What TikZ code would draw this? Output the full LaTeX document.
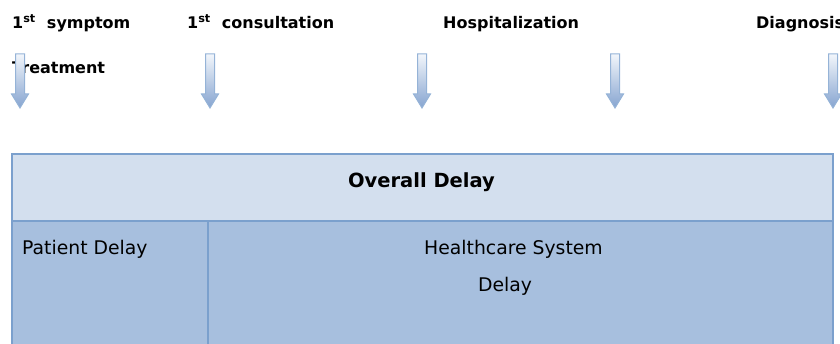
\documentclass[tikz,border=0pt]{standalone}
\usepackage{fontspec}
\setmainfont{DejaVu Sans}
\definecolor{rowlight}{HTML}{D3DFEE}
\definecolor{rowdark}{HTML}{A7BFDE}
\definecolor{gridline}{HTML}{7BA0CD}
\definecolor{arrowline}{HTML}{95B3D7}
\definecolor{arrowtop}{HTML}{F2F6FB}
\definecolor{arrowbot}{HTML}{86A4D0}
\begin{document}
\begin{tikzpicture}[x=1pt,y=-1pt,
  milestone/.style={font=\fontsize{16}{19}\selectfont\bfseries, anchor=base west, inner sep=0pt},
  cell/.style={draw=gridline, line width=1.8pt, anchor=north west, inner sep=0pt},
  celltext/.style={font=\fontsize{18.8}{22}\selectfont, inner sep=0pt},
  blockarrow/.style={draw=arrowline, line width=1pt, top color=arrowtop, bottom color=arrowbot, line join=miter}
]
\useasboundingbox (0,0) rectangle (840,344);
\clip (0,0) rectangle (840,344);

% milestone labels along the time line
\node[milestone] (symptom) at (12,29) {1\textsuperscript{st}\ \ symptom};
\node[milestone] (consult) at (187,29) {1\textsuperscript{st}\ \ consultation};
\node[milestone] (hosp) at (443,29) {Hospitalization};
\node[milestone] (diag) at (756,29) {Diagnosis};
\node[milestone] (treat) at (12,74) {Treatment};

% downward block arrows marking each milestone
\foreach \cx in {20,210,422,615,833} {
  \path[blockarrow] (\cx-4.5,54) -- (\cx+4.5,54) -- (\cx+4.5,94) -- (\cx+8.5,94)
    -- (\cx,108) -- (\cx-8.5,94) -- (\cx-4.5,94) -- cycle;
}

% delay table
\node[cell, fill=rowlight, minimum width=821pt, minimum height=67pt] (overall) at (11,153) {};
\node[cell, fill=rowdark, minimum width=196pt, minimum height=140pt] (patient) at (11,220) {};
\node[cell, fill=rowdark, minimum width=625pt, minimum height=140pt] (health) at (207,220) {};

\node[celltext, font=\fontsize{19.5}{22}\selectfont\bfseries, anchor=base] (overallT) at (421.5,188) {Overall Delay};
\node[celltext, anchor=base west] (patientT) at (22,255) {Patient Delay};
\node[celltext, anchor=base] (healthT1) at (513.5,255) {Healthcare System};
\node[celltext, anchor=base] (healthT2) at (505,292) {Delay};
\end{tikzpicture}
\end{document}
